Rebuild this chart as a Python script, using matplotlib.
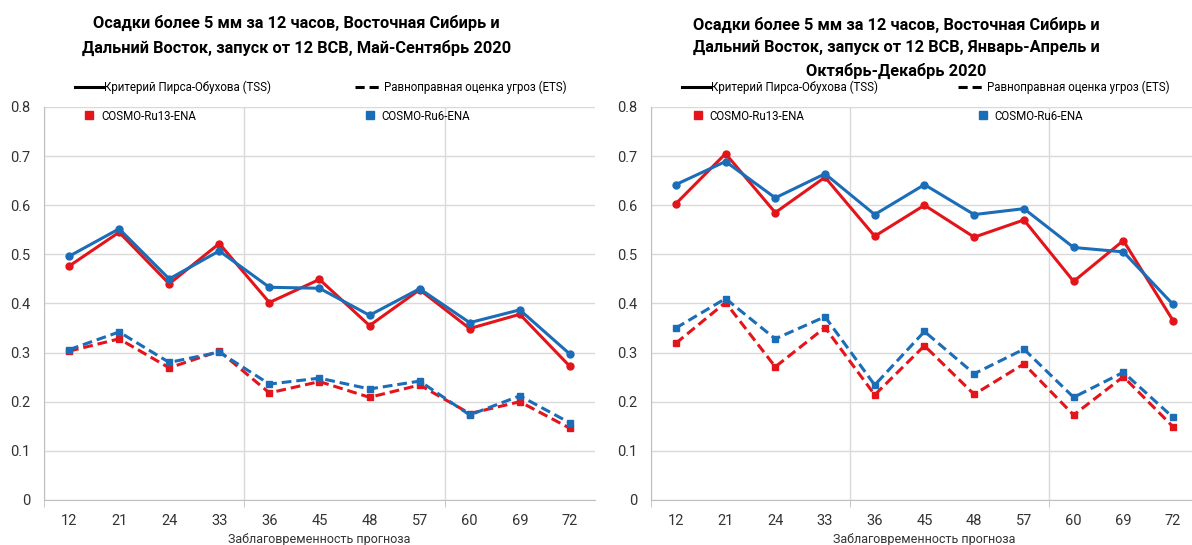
import matplotlib
matplotlib.use("Agg")
import matplotlib.pyplot as plt
from matplotlib.lines import Line2D

plt.rcParams['font.family'] = ['Roboto', 'DejaVu Sans']

# Заблаговременность прогноза, ч
lead = ['12', '21', '24', '33', '36', '45', '48', '57', '60', '69', '72']

# Май-Сентябрь 2020
tss_ru13_summer = [0.476, 0.545, 0.440, 0.522, 0.402, 0.449, 0.355, 0.428, 0.349, 0.378, 0.272]
tss_ru6_summer = [0.496, 0.552, 0.450, 0.507, 0.433, 0.431, 0.376, 0.430, 0.361, 0.387, 0.297]
ets_ru13_summer = [0.303, 0.328, 0.269, 0.303, 0.218, 0.241, 0.209, 0.234, 0.176, 0.200, 0.146]
ets_ru6_summer = [0.306, 0.342, 0.280, 0.301, 0.236, 0.248, 0.226, 0.242, 0.173, 0.212, 0.157]

# Январь-Апрель и Октябрь-Декабрь 2020
tss_ru13_winter = [0.603, 0.705, 0.585, 0.657, 0.537, 0.600, 0.535, 0.570, 0.445, 0.528, 0.365]
tss_ru6_winter = [0.642, 0.689, 0.615, 0.664, 0.581, 0.642, 0.581, 0.593, 0.514, 0.505, 0.398]
ets_ru13_winter = [0.319, 0.402, 0.271, 0.351, 0.214, 0.314, 0.215, 0.277, 0.173, 0.251, 0.149]
ets_ru6_winter = [0.350, 0.410, 0.328, 0.373, 0.234, 0.343, 0.257, 0.307, 0.209, 0.260, 0.168]

titles = [
    'Осадки более 5 мм за 12 часов, Восточная Сибирь и\nДальний Восток, запуск от 12 ВСВ, Май-Сентябрь 2020',
    'Осадки более 5 мм за 12 часов, Восточная Сибирь и\nДальний Восток, запуск от 12 ВСВ, Январь-Апрель и\nОктябрь-Декабрь 2020',
]

RED = '#E3151B'
BLUE = '#1B6DB8'
GRID = '#D9D9D9'

fig = plt.figure(figsize=(11.92, 5.45), dpi=100)
ax1 = fig.add_axes([0.0369, 0.0826, 0.4622, 0.7211])
ax2 = fig.add_axes([0.5461, 0.0826, 0.4589, 0.7211])

panels = [
    (ax1, tss_ru13_summer, tss_ru6_summer, ets_ru13_summer, ets_ru6_summer,
     (0.056, 0.564, 0.074, 0.583)),
    (ax2, tss_ru13_winter, tss_ru6_winter, ets_ru13_winter, ets_ru6_winter,
     (0.057, 0.561, 0.077, 0.598)),
]

for ax, t13, t6, e13, e6, lx in panels:
    x = list(range(len(lead)))
    ax.plot(x, t13, color=RED, lw=2.2, marker='o', ms=5, zorder=3)
    ax.plot(x, t6, color=BLUE, lw=2.2, marker='o', ms=5, zorder=3)
    ax.plot(x, e13, color=RED, lw=2.2, ls=(0, (3.2, 1.6)), marker='s', ms=5, zorder=3)
    ax.plot(x, e6, color=BLUE, lw=2.2, ls=(0, (3.2, 1.6)), marker='s', ms=5, zorder=3)

    ax.set_xlim(-0.5, len(lead) - 0.5)
    ax.set_ylim(0, 0.8)
    ax.set_xticks(x)
    ax.set_xticklabels(lead)
    ax.set_xticks([-0.5, 3.5, 7.5], minor=True)
    ax.tick_params(axis='x', which='major', length=0, labelsize=10.5, pad=10, colors='#333333')
    ax.tick_params(axis='x', which='minor', length=5, color='#BFBFBF')
    ax.set_yticks([0, 0.1, 0.2, 0.3, 0.4, 0.5, 0.6, 0.7, 0.8])
    ax.set_yticklabels(['0', '0.1', '0.2', '0.3', '0.4', '0.5', '0.6', '0.7', '0.8'])
    ax.tick_params(axis='y', length=0, labelsize=10.5, pad=10, colors='#333333')

    ax.grid(axis='y', color=GRID, lw=1)
    ax.grid(axis='x', which='minor', color=GRID, lw=1)
    ax.set_axisbelow(True)
    for s in ['top', 'right']:
        ax.spines[s].set_visible(False)
    for s in ['left', 'bottom']:
        ax.spines[s].set_color('#BFBFBF')
    ax.set_xlabel('Заблаговременность прогноза', fontsize=9, color='#333333', labelpad=4)

    # легенда: тип линии
    leg_kw = dict(frameon=False, borderpad=0, borderaxespad=0, loc='center left',
                  fontsize=8.3, handletextpad=0.1, handlelength=2.4)
    l1 = ax.legend([Line2D([], [], color='black', lw=2.2)],
                   ['Критерий Пирса-Обухова (TSS)'],
                   bbox_to_anchor=(lx[0], 1.051), **leg_kw)
    ax.add_artist(l1)
    l2 = ax.legend([Line2D([], [], color='black', lw=2.2, ls=(0, (3, 1.6)))],
                   ['Равноправная оценка угроз (ETS)'],
                   bbox_to_anchor=(lx[1], 1.051), **leg_kw)
    ax.add_artist(l2)
    # легенда: модель
    sq_kw = dict(frameon=False, borderpad=0, borderaxespad=0, loc='center left',
                 fontsize=8.3, handletextpad=0.6, handlelength=0.8)
    l3 = ax.legend([Line2D([], [], color=RED, marker='s', ms=6, ls='none')],
                   ['COSMO-Ru13-ENA'], bbox_to_anchor=(lx[2], 0.977), **sq_kw)
    ax.add_artist(l3)
    ax.legend([Line2D([], [], color=BLUE, marker='s', ms=6, ls='none')],
              ['COSMO-Ru6-ENA'], bbox_to_anchor=(lx[3], 0.977), **sq_kw)

fig.text(0.249, 0.935, titles[0], ha='center', va='center', fontsize=11.8,
         fontweight='bold', linespacing=1.62)
fig.text(0.752, 0.912, titles[1], ha='center', va='center', fontsize=11.8,
         fontweight='bold', linespacing=1.62)

fig.savefig('out.png', dpi=100)
